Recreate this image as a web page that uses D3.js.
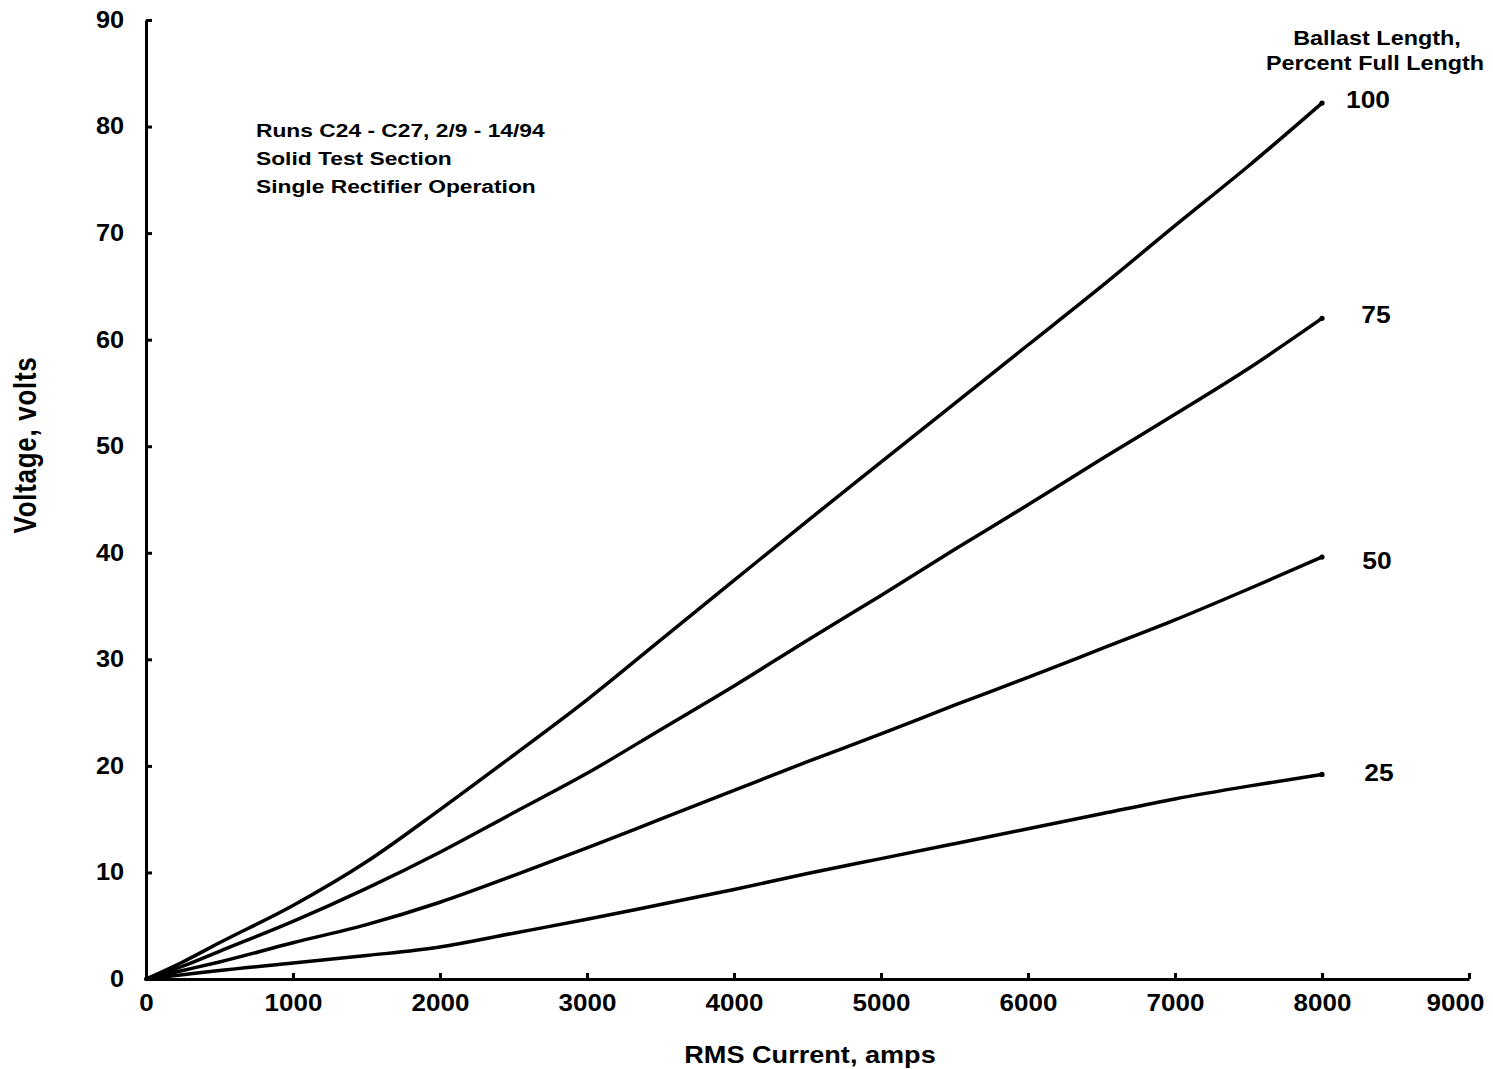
<!DOCTYPE html>
<html>
<head>
<meta charset="utf-8">
<script src="https://cdn.jsdelivr.net/npm/d3@7"></script>
<style>
  html, body { margin: 0; padding: 0; background: #fff; }
  svg { display: block; }
  text { font-family: "Liberation Sans", Arial, sans-serif; font-weight: bold; fill: #000; }
</style>
</head>
<body>
<svg id="chart" width="1493" height="1069"></svg>
<script>
// ---- data ----
const current = [0, 250, 500, 1000, 1500, 2000, 2500, 3000, 3500, 4000, 4500, 5000, 5500, 6000, 6500, 7000, 7500, 8000];
const v100 = [0, 1.6, 3.4, 6.9, 11.0, 15.9, 21.0, 26.2, 31.8, 37.4, 43.0, 48.5, 54.0, 59.5, 65.0, 70.7, 76.3, 82.2];
const v75  = [0, 1.2, 2.6, 5.4, 8.5, 11.9, 15.6, 19.3, 23.4, 27.5, 31.8, 36.0, 40.3, 44.5, 48.8, 53.0, 57.3, 62.0];
const v50  = [0, 0.8, 1.6, 3.4, 5.1, 7.2, 9.7, 12.3, 15.0, 17.7, 20.4, 23.0, 25.7, 28.3, 31.0, 33.7, 36.6, 39.6];
const v25  = [0, 0.4, 0.8, 1.5, 2.2, 3.0, 4.3, 5.6, 7.0, 8.4, 9.9, 11.3, 12.7, 14.1, 15.5, 16.9, 18.1, 19.2];
const seriesNames = ["100", "75", "50", "25"];
const seriesValues = [v100, v75, v50, v25];
const xTicks = [0, 1000, 2000, 3000, 4000, 5000, 6000, 7000, 8000, 9000];
const yTicks = [0, 10, 20, 30, 40, 50, 60, 70, 80, 90];
const xTitle = "RMS Current, amps";
const yTitle = "Voltage, volts";
const noteLines = ["Runs C24 - C27, 2/9 - 14/94", "Solid Test Section", "Single Rectifier Operation"];
const legendTitle = ["Ballast Length,", "Percent Full Length"];

// ---- layout ----
const svg = d3.select("#chart");
const x = d3.scaleLinear().domain([0, 9000]).range([146, 1469]);
const y = d3.scaleLinear().domain([0, 90]).range([979, 20]);

// axes
const xAxis = d3.axisBottom(x).tickValues(xTicks).tickFormat(d3.format("d"))
  .tickSizeInner(-6).tickSizeOuter(0).tickPadding(16);
const yAxis = d3.axisLeft(y).tickValues(yTicks).tickFormat(d3.format("d"))
  .tickSizeInner(-6).tickSizeOuter(0).tickPadding(0);

const gx = svg.append("g").attr("transform", `translate(0,${y(0)})`).call(xAxis);
const gy = svg.append("g").attr("transform", `translate(${x(0)},0)`).call(yAxis);
[gx, gy].forEach(g => {
  g.select(".domain").attr("stroke", "#000").attr("stroke-width", 3);
  g.selectAll(".tick line").attr("stroke", "#000").attr("stroke-width", 3);
  g.selectAll(".tick text").attr("font-size", 23).attr("font-family", "Liberation Sans, Arial, sans-serif")
    .attr("font-weight", "bold").attr("fill", "#000");
});
gx.selectAll(".tick text").attr("transform", d => d === 9000 ? "translate(-14,0) scale(1.13,1)" : "scale(1.13,1)");
gy.selectAll(".tick text").attr("x", 0).attr("transform", "translate(-22,0) scale(1.1,1)");

// curves
const line = d3.line().x(d => x(d[0])).y(d => y(d[1])).curve(d3.curveMonotoneX);
seriesValues.forEach((vals, i) => {
  const pts = current.map((c, j) => [c, vals[j]]);
  svg.append("path").datum(pts).attr("d", line)
    .attr("fill", "none").attr("stroke", "#000").attr("stroke-width", 3.5)
    .attr("stroke-linecap", "round");
  svg.append("circle").attr("cx", x(current[current.length - 1])).attr("cy", y(vals[vals.length - 1]))
    .attr("r", 2.6).attr("fill", "#000");
});

// helper: horizontally stretched text centred/anchored at (px,py)
function stretched(px, py, str, size, sx, anchor) {
  return svg.append("text")
    .attr("transform", `translate(${px},${py}) scale(${sx},1)`)
    .attr("dy", "0.36em").attr("text-anchor", anchor || "middle")
    .attr("font-size", size).text(str);
}

// series labels
const labelPos = [[1368, 99], [1376, 314], [1377, 560], [1379, 772]];
seriesNames.forEach((n, i) => stretched(labelPos[i][0], labelPos[i][1], n, 24, 1.1));

// legend title
legendTitle.forEach((t, i) => stretched([1377, 1375][i], [38, 63][i], t, 20, 1.17));

// note
noteLines.forEach((t, i) => stretched(256, 130 + i * 28, t, 19, 1.2, "start"));

// axis titles
stretched(810, 1054, xTitle, 24, 1.13);
svg.append("text").attr("transform", "translate(25,445) scale(1.2,1) rotate(-90)").attr("dy", "0.36em")
  .attr("text-anchor", "middle").attr("font-size", 26).style("letter-spacing", "0.7px").text(yTitle);
</script>
</body>
</html>
